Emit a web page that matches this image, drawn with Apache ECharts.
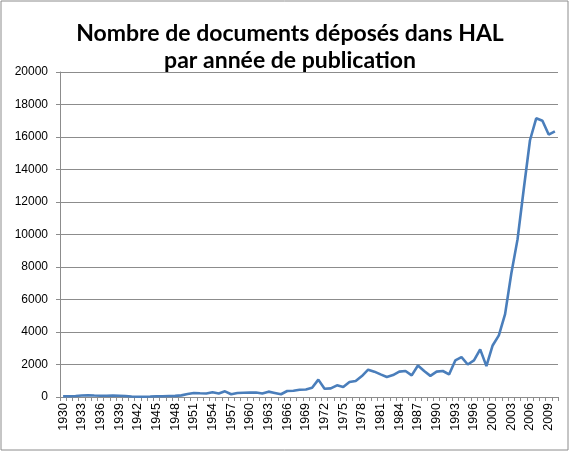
<!DOCTYPE html>
<html>
<head>
<meta charset="utf-8">
<script src="https://cdn.jsdelivr.net/npm/echarts@6/dist/echarts.min.js"></script>
<style>
  html, body { margin: 0; padding: 0; background: #fff; }
  #chart { width: 574px; height: 456px; }
</style>
</head>
<body>
<div id="chart"></div>
<script>
// years (1999 is missing in the source series)
let years = [
    '1930', '1931', '1932', '1933', '1934', '1935', '1936', '1937', '1938', '1939',
    '1940', '1941', '1942', '1943', '1944', '1945', '1946', '1947', '1948', '1949',
    '1950', '1951', '1952', '1953', '1954', '1955', '1956', '1957', '1958', '1959',
    '1960', '1961', '1962', '1963', '1964', '1965', '1966', '1967', '1968', '1969',
    '1970', '1971', '1972', '1973', '1974', '1975', '1976', '1977', '1978', '1979',
    '1980', '1981', '1982', '1983', '1984', '1985', '1986', '1987', '1988', '1989',
    '1990', '1991', '1992', '1993', '1994', '1995', '1996', '1997', '1998',
    '2000', '2001', '2002', '2003', '2004', '2005', '2006', '2007', '2008', '2009', '2010'
];
// nombre de documents par année
let docs = [
    50, 50, 60, 90, 110, 90, 80, 80, 90, 80,
    60, 30, 20, 20, 30, 50, 50, 60, 70, 100,
    180, 250, 230, 220, 290, 220, 350, 170, 250, 260,
    270, 280, 220, 330, 250, 170, 370, 380, 450, 460,
    570, 1070, 510, 530, 720, 610, 920, 980, 1290, 1680,
    1560, 1390, 1230, 1350, 1560, 1600, 1330, 1940, 1600, 1300,
    1560, 1600, 1390, 2250, 2450, 2000, 2250, 2930, 1900,
    3170, 3790, 5100, 7600, 9700, 12800, 15800, 17150, 17000, 16150, 16350
];
let titleLines = ['Nombre de documents déposés dans HAL', 'par année de publication'];

let myChart = echarts.init(document.getElementById('chart'));

myChart.setOption({
    animation: false,
    title: {
        text: titleLines.join('\n'),
        left: 285,
        textAlign: 'center',
        top: 15,
        textStyle: {
            fontFamily: 'Lato',
            fontWeight: 'bold',
            fontSize: 23,
            lineHeight: 27,
            color: '#000'
        }
    },
    // cadre autour du graphique
    graphic: [{
        type: 'rect',
        shape: { x: 1, y: 1, width: 567, height: 449 },
        style: { fill: 'none', stroke: '#8c8c8c', lineWidth: 1 },
        silent: true
    }],
    grid: {
        left: 60,
        right: 16,
        top: 72,
        bottom: 59
    },
    xAxis: {
        type: 'category',
        data: years,
        boundaryGap: true,
        axisLine: { lineStyle: { color: '#8c8c8c' } },
        axisTick: { show: true, interval: 0, length: 4, lineStyle: { color: '#8c8c8c' } },
        axisLabel: {
            interval: 2,
            rotate: 90,
            margin: 6,
            fontFamily: 'Liberation Sans',
            fontSize: 12.5,
            color: '#000'
        }
    },
    yAxis: {
        type: 'value',
        min: 0,
        max: 20000,
        interval: 2000,
        axisLine: { show: true, lineStyle: { color: '#8c8c8c' } },
        axisTick: { show: true, length: 4, lineStyle: { color: '#8c8c8c' } },
        splitLine: { lineStyle: { color: '#8c8c8c' } },
        axisLabel: {
            margin: 12,
            formatter: function (v) { return String(v); },
            fontFamily: 'Liberation Sans',
            fontSize: 12,
            color: '#000'
        }
    },
    series: [{
        type: 'line',
        data: docs,
        showSymbol: false,
        lineStyle: { color: '#4a7ebb', width: 2.6 },
        itemStyle: { color: '#4a7ebb' }
    }]
});
</script>
</body>
</html>
